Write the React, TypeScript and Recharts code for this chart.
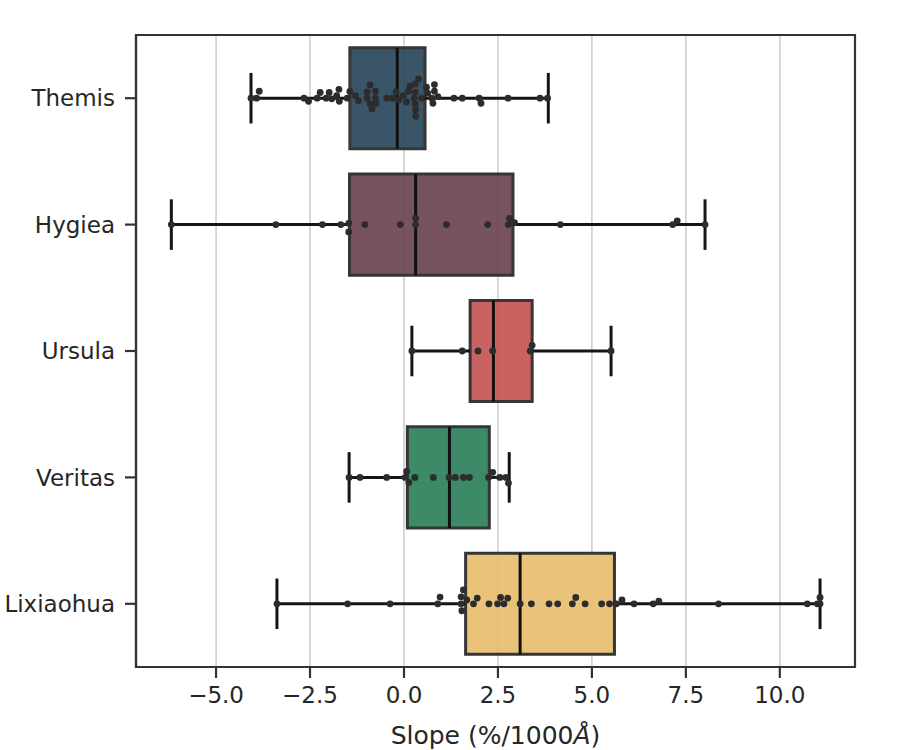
import React from 'react';
import {
  ComposedChart,
  XAxis,
  YAxis,
  CartesianGrid,
  ReferenceArea,
  ReferenceLine,
  Scatter,
} from 'recharts';

// 그룹 (위에서 아래 순서)
const groups = ['Themis', 'Hygiea', 'Ursula', 'Veritas', 'Lixiaohua'];
const boxColors = ['#254358', '#67404c', '#c55151', '#277d57', '#e7bd6b'];

// 상자 통계값
const whiskerLow = [-4.07, -6.19, 0.21, -1.46, -3.38];
const q1 = [-1.44, -1.45, 1.76, 0.09, 1.64];
const median = [-0.18, 0.31, 2.38, 1.21, 3.09];
const q3 = [0.56, 2.9, 3.41, 2.27, 5.6];
const whiskerHigh = [3.84, 8.01, 5.51, 2.8, 11.07];

// 개별 점: [값, 세로 오프셋(카테고리 단위)]
const themisPoints = [
  [-4.07, 0], [-3.92, 0], [-3.85, -0.055], [-2.66, 0], [-2.54, 0.025],
  [-2.31, 0], [-2.23, -0.045], [-2.07, 0], [-1.99, -0.045], [-1.92, 0.005],
  [-1.79, -0.02], [-1.73, -0.07], [-1.72, 0.025], [-1.51, 0], [-1.44, -0.053],
  [-1.29, -0.02], [-1.21, 0.02], [-0.98, 0], [-0.98, -0.05], [-0.9, -0.105],
  [-0.9, 0.045], [-0.85, 0.085], [-0.76, -0.055], [-0.76, 0], [-0.74, 0.04],
  [-0.46, 0], [-0.3, 0], [-0.21, -0.05], [-0.14, 0.014], [-0.02, -0.02],
  [0.07, 0.03], [0.12, -0.055], [0.16, -0.095], [0.27, 0], [0.3, -0.047],
  [0.3, -0.113], [0.39, -0.153], [0.3, 0.045], [0.31, 0.092], [0.31, 0.142],
  [0.47, 0], [0.6, -0.087], [0.63, -0.04], [0.74, 0], [0.77, 0.04],
  [0.81, -0.108], [0.81, -0.055], [0.9, -0.013], [1.33, 0], [1.55, 0],
  [2.0, 0], [2.05, 0.04], [2.77, 0], [3.62, 0], [3.82, 0],
];
const hygieaPoints = [
  [-6.19, 0], [-3.41, 0], [-2.17, 0], [-1.68, 0], [-1.47, -0.01],
  [-1.47, 0.058], [-1.04, 0], [-0.1, 0], [0.31, 0], [0.31, -0.052],
  [1.13, 0], [2.23, 0], [2.78, 0], [2.81, -0.05], [2.94, -0.015],
  [4.16, 0], [7.15, 0], [7.27, -0.03], [8.01, 0],
];
const ursulaPoints = [
  [0.21, 0], [1.55, 0], [1.97, 0], [2.36, 0], [3.36, 0], [3.41, -0.045],
  [5.51, 0],
];
const veritasPoints = [
  [-1.46, 0], [-1.17, 0], [-0.46, 0], [0.03, 0], [0.07, -0.047],
  [0.13, 0.04], [0.29, 0], [0.78, 0], [1.2, 0], [1.37, 0], [1.58, 0],
  [1.74, 0], [2.25, 0], [2.36, -0.04], [2.55, 0], [2.71, 0], [2.78, 0.045],
];
const lixiaohuaPoints = [
  [-3.38, 0], [-1.5, 0], [-0.37, 0], [0.9, 0], [0.96, -0.053],
  [1.52, 0], [1.52, -0.055], [1.58, -0.11], [1.54, 0.055], [1.67, -0.03],
  [1.85, 0], [1.95, -0.045], [2.26, 0], [2.49, 0], [2.57, -0.05],
  [2.66, 0], [2.76, -0.045], [3.09, 0], [3.39, 0], [3.86, 0], [4.09, 0],
  [4.48, 0], [4.57, -0.05], [4.82, 0], [5.26, 0], [5.47, 0], [5.65, 0],
  [5.8, -0.03], [6.12, 0], [6.63, 0], [6.78, -0.02], [8.37, 0], [10.73, 0],
  [11.0, 0], [11.07, -0.05], [11.07, 0],
];
const allPoints = [themisPoints, hygieaPoints, ursulaPoints, veritasPoints, lixiaohuaPoints];

const xDomain = [-7.13, 12.0];
const yDomain = [-0.5, 4.5];
const xTicks = [-5, -2.5, 0, 2.5, 5, 7.5, 10];
const yTicks = [0, 1, 2, 3, 4];

const FONT = "'DejaVu Sans', sans-serif";
const TEXT = '#262626';
const AXIS = '#333333';
const LINE = '#151515';

function AxisTitle({ viewBox }: any) {
  if (!viewBox) return null;
  const cx = viewBox.x + viewBox.width / 2;
  return (
    <text
      x={cx}
      y={viewBox.y + 77}
      textAnchor='middle'
      fontSize={25}
      fontFamily={FONT}
      fill={TEXT}
    >
      Slope (%/1000<tspan fontStyle='italic'>Å</tspan>)
    </text>
  );
}

const dot = (props: any) => (
  <circle cx={props.cx} cy={props.cy} r={3.4} fill='#2c2c2c' />
);

export default function App() {
  return (
    <div style={{ position: 'absolute', left: 0, top: 0, background: '#fff' }}>
      <ComposedChart
        width={900}
        height={750}
        margin={{ top: 35, right: 45, bottom: 0, left: 0 }}
      >
        <CartesianGrid horizontal={false} stroke='#cccccc' strokeWidth={1.5} />
        <XAxis
          type='number'
          dataKey='x'
          domain={xDomain}
          ticks={xTicks}
          allowDataOverflow
          height={83}
          tickSize={11}
          tickMargin={9}
          tickFormatter={(v: number) => v.toFixed(1).replace('-', '\u2212')}
          tick={{ fontSize: 23, fill: TEXT, fontFamily: FONT }}
          axisLine={{ stroke: AXIS, strokeWidth: 2.2 }}
          tickLine={{ stroke: AXIS, strokeWidth: 2.2 }}
          label={<AxisTitle />}
        />
        <YAxis
          type='number'
          dataKey='y'
          domain={yDomain}
          reversed
          allowDataOverflow
          ticks={yTicks}
          width={136}
          tickSize={11}
          tickMargin={10}
          tickFormatter={(v: number) => groups[v] ?? ''}
          tick={{ fontSize: 23, fill: TEXT, fontFamily: FONT }}
          axisLine={{ stroke: AXIS, strokeWidth: 2.2 }}
          tickLine={{ stroke: AXIS, strokeWidth: 2.2 }}
        />

        {groups.map((g, i) => (
          <ReferenceArea
            key={`box-${g}`}
            x1={q1[i]}
            x2={q3[i]}
            y1={i - 0.4}
            y2={i + 0.4}
            fill={boxColors[i]}
            fillOpacity={0.9}
            stroke='#363636'
            strokeWidth={3}
          />
        ))}

        {groups.map((g, i) => (
          <React.Fragment key={`wh-${g}`}>
            <ReferenceLine
              segment={[{ x: whiskerLow[i], y: i }, { x: q1[i], y: i }]}
              stroke={LINE}
              strokeWidth={3}
            />
            <ReferenceLine
              segment={[{ x: q3[i], y: i }, { x: whiskerHigh[i], y: i }]}
              stroke={LINE}
              strokeWidth={3}
            />
            <ReferenceLine
              segment={[{ x: whiskerLow[i], y: i - 0.2 }, { x: whiskerLow[i], y: i + 0.2 }]}
              stroke={LINE}
              strokeWidth={3}
            />
            <ReferenceLine
              segment={[{ x: whiskerHigh[i], y: i - 0.2 }, { x: whiskerHigh[i], y: i + 0.2 }]}
              stroke={LINE}
              strokeWidth={3}
            />
            <ReferenceLine
              segment={[{ x: median[i], y: i - 0.4 }, { x: median[i], y: i + 0.4 }]}
              stroke='#101010'
              strokeWidth={3}
            />
          </React.Fragment>
        ))}

        {allPoints.map((pts, i) => (
          <Scatter
            key={`pts-${groups[i]}`}
            data={pts.map(([v, off]) => ({ x: v, y: i + off }))}
            shape={dot}
            isAnimationActive={false}
          />
        ))}

        {/* 위/오른쪽 테두리 */}
        <ReferenceArea
          x1={xDomain[0]}
          x2={xDomain[1]}
          y1={yDomain[0]}
          y2={yDomain[1]}
          fill='none'
          stroke={AXIS}
          strokeWidth={2.2}
        />
      </ComposedChart>
    </div>
  );
}
